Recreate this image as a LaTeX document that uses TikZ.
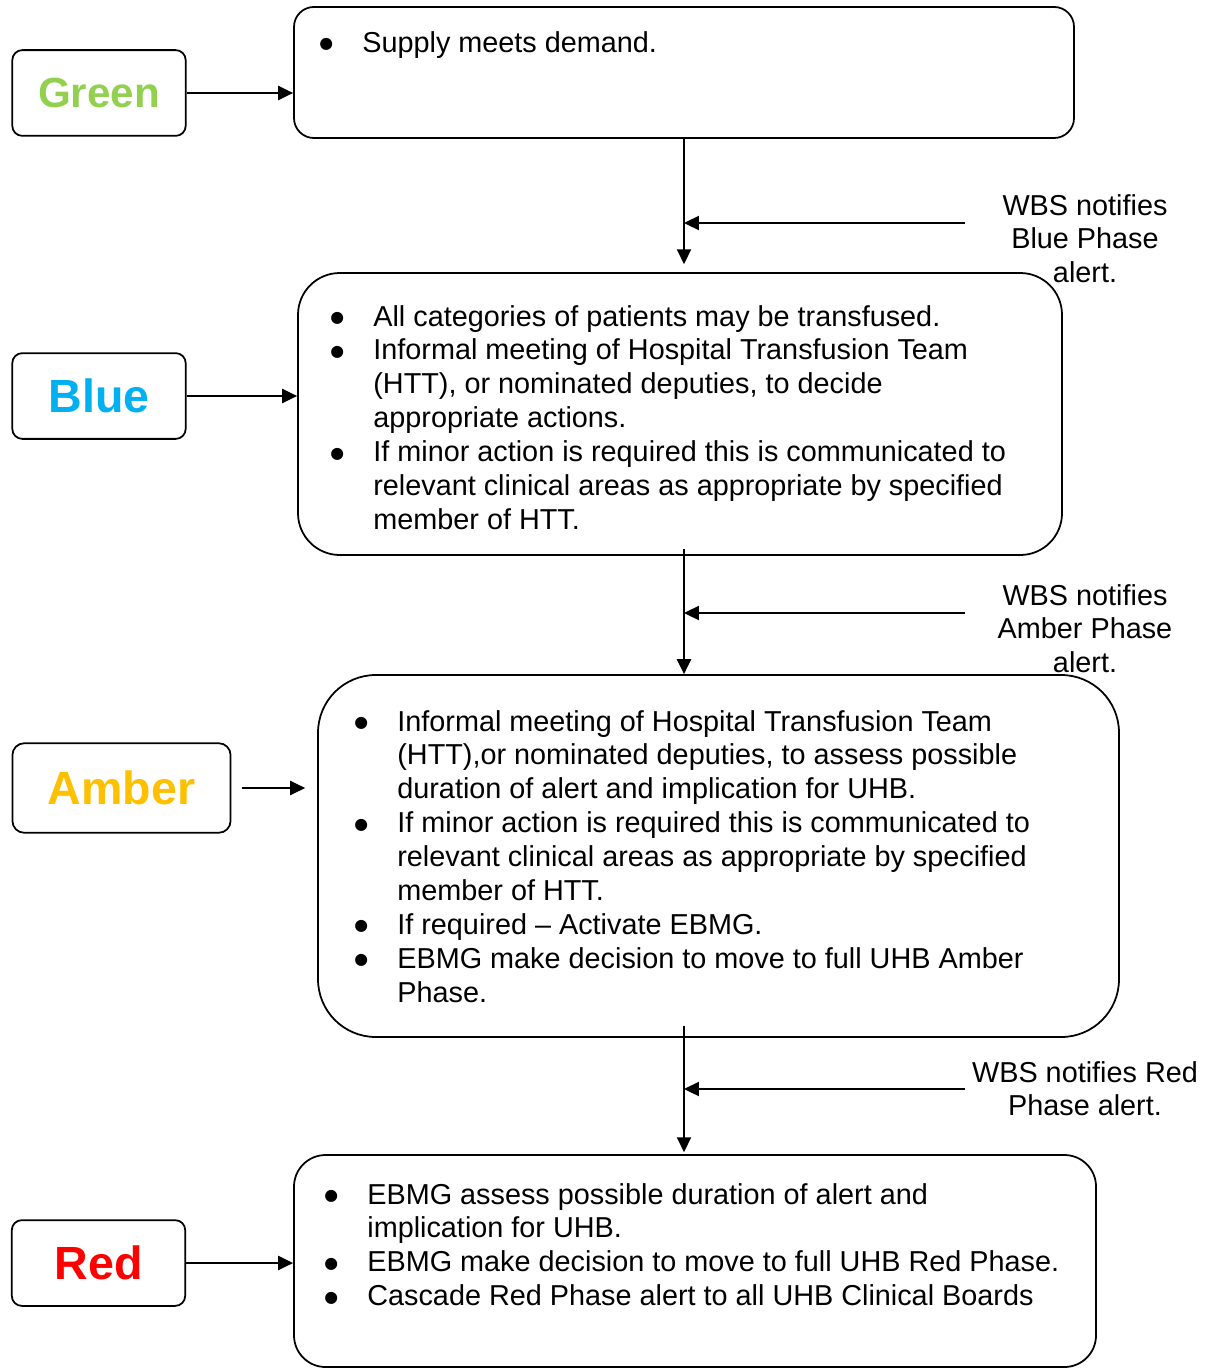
\documentclass[tikz,border=0pt]{standalone}
\usepackage{fontspec}
\setmainfont{Liberation Sans}
\newfontfamily\bulletfont{DejaVu Sans}
\usetikzlibrary{arrows.meta,fit}

\definecolor{phasegreen}{HTML}{92D050}
\definecolor{phaseblue}{HTML}{00B0F0}
\definecolor{phaseamber}{HTML}{FFC000}
\definecolor{phasered}{HTML}{FF0000}
\newcommand{\bodyfont}{\fontsize{16.4}{19.28}\selectfont}
\newcommand{\labfont}{\fontsize{26.5}{30}\selectfont\bfseries}
\newcommand{\bul}{\llap{\makebox[24.4pt][l]{\raisebox{2pt}{\bulletfont\fontsize{9}{9}\selectfont ●}}}}

\begin{document}
\begin{tikzpicture}[x=0.02cm,y=-0.02cm,
    phaselab/.style={draw,line width=1pt,rounded corners=5.7pt,inner sep=0pt,
      minimum width=98.7pt,minimum height=48.8pt,font=\labfont},
    phasebox/.style={draw,line width=1pt,inner sep=0pt},
    bullets/.style={anchor=north west,inner sep=0pt,align=left,font=\bodyfont},
    note/.style={anchor=north,inner sep=0pt,align=center,font=\bodyfont},
    connector/.style={-{Triangle[length=8.5pt,width=8pt]},line width=1.1pt}]
    \useasboundingbox (0,0) rectangle (1211,1368);
    % phase labels
    \node[phaselab,text=phasegreen,font=\fontsize{24}{28}\selectfont\bfseries] (greenlab) at (99,93) {Green};
    \node[phaselab,text=phaseblue] (bluelab) at (99,396) {Blue};
    \node[phaselab,text=phaseamber,rounded corners=6.8pt,minimum width=124.2pt,minimum height=51pt] (amberlab) at (121.5,788) {Amber};
    \node[phaselab,text=phasered] (redlab) at (98.5,1263) {Red};
    % phase boxes
    \node[phasebox,rounded corners=11.3pt,fit={(294,7) (1074,138)}] (topbox) {};
    \node[phasebox,rounded corners=23.8pt,fit={(298,273) (1062,555)}] (bluebox) {};
    \node[phasebox,rounded corners=32.9pt,fit={(318,675) (1119,1037)}] (amberbox) {};
    \node[phasebox,rounded corners=18pt,fit={(294,1155) (1096,1367)}] (redbox) {};
    \node[bullets] (greentext) at (362,28) {\strut\bul Supply meets demand.};
    \node[bullets] (bluetext) at (373,302) {\strut\bul All categories of patients may be transfused.\\
        \bul Informal meeting of Hospital Transfusion Team\\
        (HTT), or nominated deputies, to decide\\
        appropriate actions.\\
        \bul If minor action is required this is communicated to\\
        relevant clinical areas as appropriate by specified\\
        member of HTT.};
    \node[bullets] (ambertext) at (397,707) {\strut\bul Informal meeting of Hospital Transfusion Team\\
        (HTT),or nominated deputies, to assess possible\\
        duration of alert and implication for UHB.\\
        \bul If minor action is required this is communicated to\\
        relevant clinical areas as appropriate by specified\\
        member of HTT.\\
        \bul If required -- Activate EBMG.\\
        \bul EBMG make decision to move to full UHB Amber\\
        Phase.};
    \node[bullets] (redtext) at (367,1180) {\strut\bul EBMG assess possible duration of alert and\\
        implication for UHB.\\
        \bul EBMG make decision to move to full UHB Red Phase.\\
        \bul Cascade Red Phase alert to all UHB Clinical Boards};
    % WBS notes
    \node[note] (bluenote) at (1085,191) {\strut WBS notifies\\Blue Phase\\alert.};
    \node[note] (ambernote) at (1085,581) {\strut WBS notifies\\Amber Phase\\alert.};
    \node[note] (rednote) at (1085,1058) {\strut WBS notifies Red\\Phase alert.};
    \coordinate (bluein) at (965,223);
    \coordinate (amberin) at (965,613);
    \coordinate (redin) at (965,1089);
    % connectors
    \draw[connector] (greenlab.east) -- (greenlab.east -| topbox.west);
    \draw[connector] (bluelab.east) -- (bluelab.east -| bluebox.west);
    \draw[connector,shorten <=5.7pt,shorten >=6.8pt] (amberlab.east) -- (amberlab.east -| amberbox.west);
    \draw[connector] (redlab.east) -- (redlab.east -| redbox.west);
    \draw[connector,shorten >=4.5pt] (topbox.south) -- (topbox.south |- bluebox.north);
    \draw[connector,shorten <=-4pt] (bluebox.south -| topbox.south) -- (topbox.south |- amberbox.north);
    \draw[connector,shorten <=-6.8pt,shorten >=1.1pt] (amberbox.south -| topbox.south) -- (topbox.south |- redbox.north);
    \draw[connector] (bluein) -- (bluein -| topbox.south);
    \draw[connector] (amberin) -- (amberin -| topbox.south);
    \draw[connector] (redin) -- (redin -| topbox.south);
\end{tikzpicture}
\end{document}
